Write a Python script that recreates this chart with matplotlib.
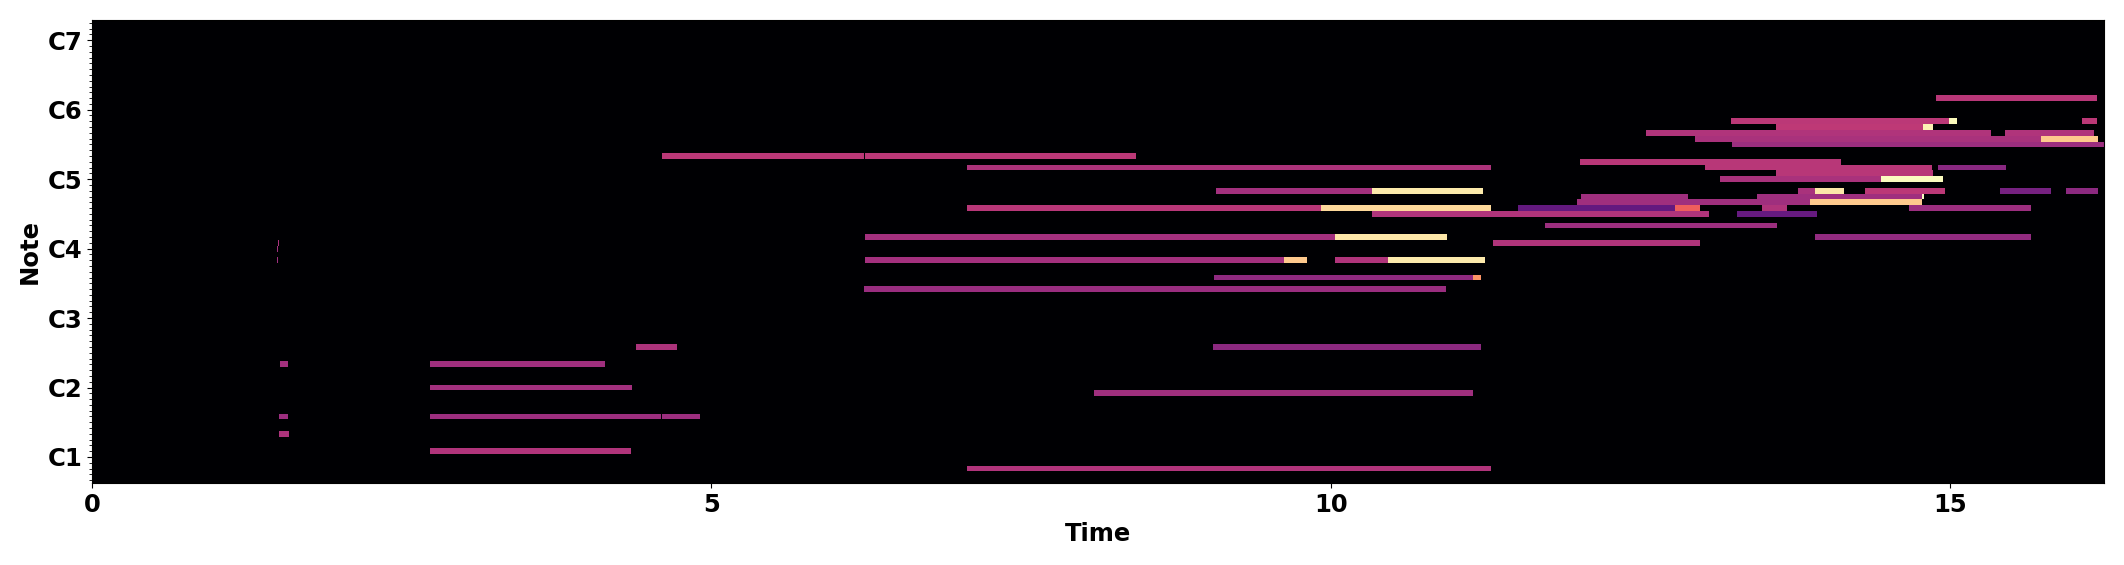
import numpy as np
import matplotlib
matplotlib.use('Agg')
import matplotlib.pyplot as plt
from matplotlib.ticker import MultipleLocator

# piano roll notes: midi pitch, onset (s), offset (s), velocity
note_pitch = [25, 28, 31, 31, 31, 36, 40, 40, 43, 58, 60, 61,
              22, 35, 43, 53, 55, 55, 58, 58, 58, 58, 61, 62, 62, 62,
              64, 66, 66, 67, 67, 67, 67, 67, 67, 68, 68, 69, 69, 69,
              70, 70, 70, 70, 70, 70, 70, 72, 72, 73, 74, 74, 74, 75,
              76, 76, 78, 79, 79, 80, 80, 81, 81, 82, 82, 82, 86]
note_start = [2.73, 1.51, 1.51, 2.73, 4.60, 2.73, 1.52, 2.73, 4.39, 1.49, 1.49, 1.50,
              7.06, 8.09, 9.05, 6.23, 9.06, 11.15, 6.24, 9.62, 10.03, 10.46, 11.31, 6.24, 10.03, 13.91,
              11.73, 10.33, 13.28, 7.06, 9.92, 11.51, 12.78, 13.48, 14.67, 11.99, 13.87, 12.02, 13.44, 14.77,
              9.07, 10.33, 13.77, 13.91, 14.31, 15.40, 15.93, 13.14, 14.44, 13.59, 7.06, 13.02, 14.90, 12.01,
              4.60, 6.24, 13.24, 12.94, 15.73, 12.54, 15.44, 13.59, 14.78, 13.23, 14.99, 16.06, 14.88]
note_end = [4.35, 1.59, 1.58, 4.59, 4.91, 4.36, 1.58, 4.14, 4.72, 1.50, 1.50, 1.51,
            11.29, 11.15, 11.21, 10.93, 11.21, 11.21, 9.81, 9.81, 11.24, 11.24, 12.98, 10.94, 10.94, 15.65,
            13.60, 13.05, 13.92, 11.29, 11.29, 12.98, 12.98, 13.68, 15.65, 14.77, 14.77, 12.88, 14.77, 14.79,
            11.23, 11.23, 14.14, 14.14, 14.96, 15.81, 16.19, 14.94, 14.94, 14.86, 11.29, 14.85, 15.45, 14.12,
            6.23, 8.43, 16.24, 16.19, 16.19, 15.33, 16.16, 14.78, 14.86, 14.99, 15.05, 16.18, 16.18]
note_velocity = [62, 61, 56, 56, 56, 58, 58, 57, 61, 57, 57, 60,
                 62, 57, 51, 55, 52, 47, 58, 55, 62, 60, 62, 58, 63, 53,
                 56, 62, 39, 64, 53, 38, 46, 62, 56, 57, 56, 57, 57, 127,
                 58, 64, 60, 61, 65, 44, 51, 60, 67, 64, 61, 64, 50, 64,
                 65, 65, 56, 60, 53, 62, 62, 66, 124, 65, 126, 65, 64]

note_names = ['C1', 'C2', 'C3', 'C4', 'C5', 'C6', 'C7']
note_ticks = [24, 36, 48, 60, 72, 84, 96]
time_ticks = [0, 5, 10, 15]


def build_roll(fs=100, low=20, high=100, duration=16.24):
    """
    Sum note velocities into a pitch x frame matrix.
    """
    n_frames = int(round(duration * fs))
    roll = np.zeros((high - low, n_frames))
    for p, s, e, v in zip(note_pitch, note_start, note_end, note_velocity):
        i0 = int(round(s * fs))
        i1 = max(int(round(e * fs)), i0 + 1)
        roll[p - low, i0:i1] += v
    return roll


def plot_roll(outfile='out.png'):
    plt.rcParams['font.family'] = ['DejaVu Sans']
    plt.rcParams['font.size'] = 17.5
    plt.rcParams['font.weight'] = 'bold'
    plt.rcParams['axes.labelweight'] = 'bold'

    fs, low, high, duration = 100, 20, 100, 16.24
    roll = build_roll(fs, low, high, duration)

    fig = plt.figure(figsize=(21.24, 5.65), dpi=100)
    ax = fig.add_axes([92 / 2124, 82 / 565, 2012 / 2124, 463 / 565])
    ax.imshow(roll, origin='lower', aspect='auto', cmap='magma',
              interpolation='nearest', vmin=0, vmax=127,
              extent=[0, roll.shape[1] / fs, low - 0.5, high - 0.5])

    ax.set_xlim(0, duration)
    ax.set_ylim(low - 0.5, high - 0.5)
    ax.set_xticks(time_ticks)
    ax.set_yticks(note_ticks)
    ax.set_yticklabels(note_names)
    ax.yaxis.set_minor_locator(MultipleLocator(1))
    ax.set_xlabel('Time')
    ax.set_ylabel('Note')

    fig.savefig(outfile, dpi=100)


if __name__ == '__main__':
    plot_roll()
